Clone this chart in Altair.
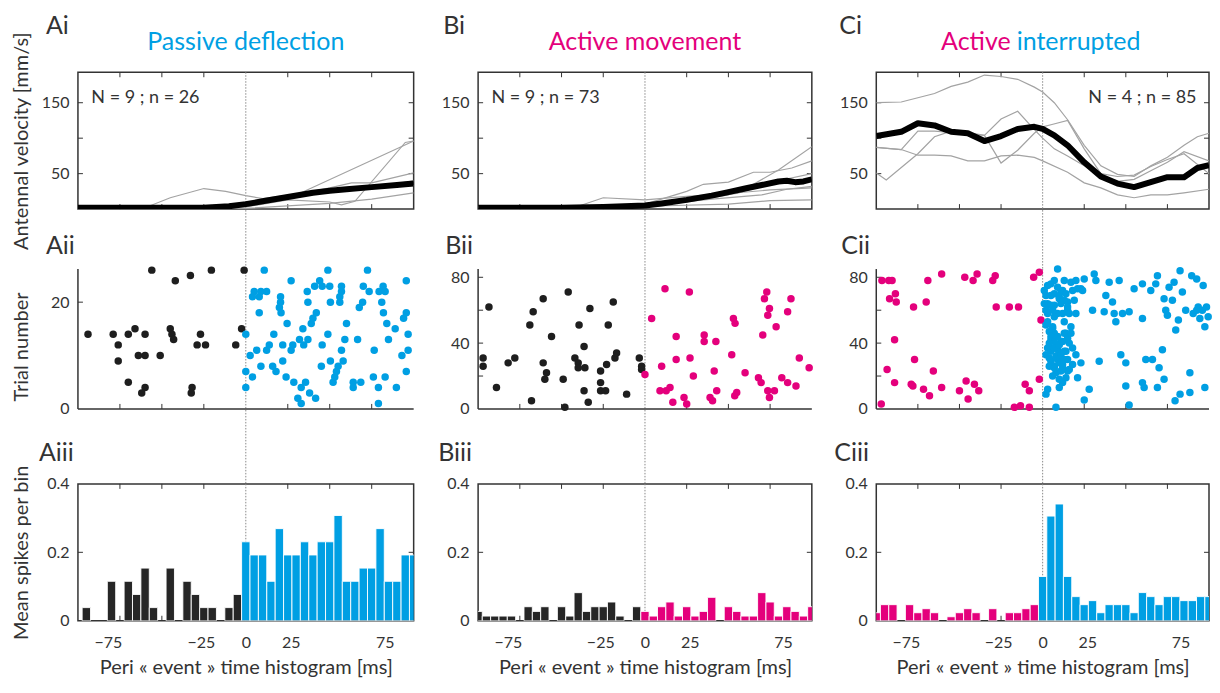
import altair as alt
import pandas as pd

FONT = "Lato"
BLUE = "#009fe3"
MAG = "#e4007c"
DARK = "#1e1e1e"
BARDARK = "#262626"
GRAY = "#a3a3a3"
INK = "#333333"

WA, WB, WC = 336, 334, 333
H1, H2, H3 = 137, 140, 137
EXTRA2 = 15          # extra room under the raster panels (keeps one row spacing)
ROWGAP = 60
COLGAP = 64.5
TICK = 5

# ---------------- data: velocity (row i) ----------------
A_GRAY_T = [[-100, -60, -45, -25, -12, 0, 10, 32, 100],
            [-100, -50, 0, 25, 50, 57, 65, 95, 100],
            [-100, 0, 25, 50, 63, 75, 100],
            [-100, 0, 50, 75, 100],
            [-100, 0, 25, 50, 75, 100],
            [-100, -20, 0, 30, 60, 100]]
A_GRAY_V = [[2, 2, 16, 29, 25, 19, 15, 22, 96],
            [1, 1, 3, 13, 10, 6, 11, 94, 96],
            [1, 5, 18, 30, 37, 37, 51],
            [0, 1, 8, 14, 23],
            [2, 6, 16, 24, 30, 40],
            [1, 2, 10, 20, 28, 33]]
A_MEAN_T = [-100, -75, -50, -25, -10, 0, 10, 25, 40, 50, 60, 75, 90, 100]
A_MEAN_V = [2, 2, 2, 2, 4, 7, 11, 17, 23, 26, 28, 31, 34, 36]

B_GRAY_T = [[-100, -50, 0, 25, 50, 65, 80, 100],
            [-100, -25, 0, 25, 35, 50, 65, 75, 88, 100],
            [-100, -40, -25, 0, 25, 50, 75, 100],
            [-100, 0, 50, 75, 100],
            [-100, 0, 30, 55, 80, 100],
            [-100, 0, 40, 70, 85, 100]]
B_GRAY_V = [[3, 4, 6, 10, 20, 35, 55, 88],
            [2, 5, 7, 25, 35, 38, 52, 52, 58, 68],
            [4, 4, 16, 13, 18, 22, 27, 30],
            [2, 4, 7, 12, 13],
            [2, 6, 15, 22, 40, 50],
            [3, 5, 14, 20, 28, 32]]
B_MEAN_T = [-100, -75, -50, -25, 0, 10, 25, 40, 50, 60, 70, 80, 85, 90, 95, 100]
B_MEAN_V = [2, 2, 2, 3, 5, 8, 13, 19, 24, 29, 34, 39, 40, 38, 39, 42]

C_GRAY_T = [[-100, -85, -75, -65, -55, -45, -35, -25, -15, -5, 0, 7, 15, 25, 35, 45, 55, 65, 75, 85, 93, 100],
            [-100, -94, -75, -65, -55, -45, -35, -25, -15, -5, 0, 5, 15, 25, 35, 45, 55, 65, 75, 85, 100],
            [-100, -85, -75, -65, -55, -45, -35, -25, -15, -5, 0, 7, 15, 25, 35, 45, 55, 65, 75, 85, 100],
            [-100, -85, -75, -65, -55, -45, -35, -25, -15, -5, 0, 15, 25, 35, 45, 55, 65, 75, 85, 100]]
C_GRAY_V = [[150, 151, 157, 163, 173, 179, 189, 187, 183, 172, 165, 150, 126, 90, 61, 49, 46, 61, 73, 90, 102, 107],
            [51, 41, 78, 102, 110, 108, 104, 65, 83, 107, 116, 119, 125, 85, 50, 46, 48, 60, 70, 78, 50],
            [87, 84, 110, 110, 108, 106, 104, 127, 138, 112, 100, 85, 75, 61, 46, 39, 42, 54, 66, 81, 68],
            [87, 84, 76, 76, 75, 68, 68, 75, 76, 73, 68, 52, 37, 30, 20, 16, 20, 20, 23, 28]]
C_MEAN_T = [-100, -85, -75, -65, -55, -45, -35, -25, -15, -5, 0, 7, 15, 25, 35, 45, 55, 65, 75, 85, 93, 100]
C_MEAN_V = [103, 109, 121, 118, 109, 107, 96, 103, 113, 116, 113, 104, 90, 66, 46, 36, 31, 38, 45, 45, 58, 62]

# ---------------- data: rasters (row ii) ----------------
A_PRE_T = [-94, -79, -76, -76, -70, -70, -66, -64, -60, -60, -60, -62, -56, -51, -45, -44, -43, -42,
           -33, -32, -32.5, -27, -29, -24, -20.5, -6, -2.5, -1]
A_PRE_Y = [14, 14, 12, 9, 14, 5, 15, 10, 14, 10, 4, 3, 26, 10, 15, 14, 13, 24,
           25, 4, 3, 14, 12, 12, 26, 12, 15, 26]
A_POST_T = [11, 0, 0, 0, 2.6, 4, 4, 5, 8, 9, 12.4, 8, 6.5, 12.4, 14, 9, 16.7, 16, 18, 20.7, 20, 21, 20.7,
            22, 22, 24, 24.6, 27, 27, 28, 28.6, 31, 33, 33, 34, 32, 34.5, 35.6, 37, 38, 41.6, 36.6, 37,
            39, 40, 42, 41, 44, 45.5, 45.5, 45, 48.9, 48.9, 50, 50.4, 50.4, 52, 53, 54, 55, 56, 56, 57,
            57, 57, 58, 59, 60, 64, 64, 68.5, 66.6, 67.6, 69.6, 70, 72.5, 73.5, 76.5, 76, 79, 79, 79.4,
            81, 81.8, 82, 83, 83, 84, 85, 89, 89.7, 93, 94, 95.6, 95.6, 95.6, 96.7, 96.7]
A_POST_Y = [26, 14, 7, 4, 10, 6, 21, 22, 21, 22, 22, 18, 11, 11, 12, 8, 14, 8, 7, 21, 19, 18, 20,
            12, 9, 6, 16, 24, 11, 12, 5, 2, 1, 4, 15, 13, 12, 5, 13, 3, 2, 22, 20,
            16, 17, 18, 23, 24, 23, 12, 8, 26, 14, 23, 20, 9, 5, 6, 7, 8, 20, 21, 23,
            22, 11, 9, 13, 16, 5, 4, 5, 13, 19, 20, 23, 26, 22, 11, 6, 4, 1, 22,
            20, 23, 18, 22, 6, 16, 13, 15, 4, 10, 17, 18, 24, 7, 14, 11]

B_PRE_T = [-97, -97, -93.5, -89, -82, -78, -69, -68, -67, -61, -61, -59, -60, -56, -49, -48, -46, -42,
           -40, -39.5, -40, -36.5, -36, -36.5, -34, -33, -26.6, -26.6, -26.6, -23.6, -23, -22, -19,
           -18, -17, -11, -3.4, -2, -2]
B_PRE_Y = [31, 26, 62, 13, 28, 31, 51, 5, 59, 67, 28, 22, 18, 44, 18, 1, 71, 31,
           28, 51, 25, 38, 25, 11, 4, 61, 23, 16, 11, 11, 27, 51, 65,
           31, 34, 9, 31, 26, 24]
B_POST_T = [0, 4, 9, 10, 12, 12.7, 15, 16.7, 18.7, 18.7, 23.4, 25, 26.6, 27, 29, 35.5, 35.5, 39, 40.5,
            41.5, 42.5, 43, 52, 53, 54, 53.8, 55, 60, 68, 69.6, 70.6, 71.6, 73, 74.6, 73.6, 73.6,
            74.6, 77.6, 78.6, 82, 85.5, 87.5, 85.5, 90.5, 92.5, 98.4]
B_POST_Y = [21, 55, 11, 26, 73, 11, 13, 4, 44, 30, 7, 3, 71, 31, 20, 45, 41, 7, 5,
            23, 41, 11, 33, 55, 52, 8, 10, 22, 19, 16, 45, 67, 71, 61, 57, 11,
            7, 11, 50, 19, 59, 67, 16, 14, 31, 25]

C_PRE_T = [-97, -96.6, -92.5, -90.5, -92, -88.5, -88, -89, -93.5, -89, -77.6, -77, -79, -78, -71.6, -68,
           -70, -69, -65.7, -60.7, -60.7, -50, -46.8, -46, -44.8, -41.8, -41, -39.4, -38.4, -30, -28.5,
           -27.9, -20, -14.5, -17, -13.3, -10.5, -8, -8, -5.4, -2, -1, -2]
C_PRE_Y = [3, 78, 78, 78, 67, 70, 65, 42, 24, 16, 62, 30, 15, 14, 12, 8,
           65, 78, 23, 82, 13, 11, 80, 17, 6, 78, 15, 82, 11, 78, 81,
           62, 62, 62, 1, 2, 15, 11, 1, 80, 83, 54, 18]
C_POST_T = [9, 3, 7, 13, 17, 25, 31, 32, 40, 46, 55, 60, 65, 2, 7, 12, 18, 23, 10, 3, 7, 11, 15, 38,
            42, 3, 8, 15, 20, 30, 37, 43, 44, 48, 52, 60, 6, 7, 14, 17, 5, 11, 15, 4, 9, 14, 18, 4, 9,
            13, 7, 12, 15, 8, 14, 21, 23, 34, 47, 50, 62, 66, 10, 3, 28, 25, 8, 52, 50, 60, 61,
            1, 5, 5, 10, 11, 13, 15, 9, 12, 16, 2, 5, 3, 7, 2, 4, 6, 5, 7, 3, 5, 7, 10, 12, 13, 17,
            5, 8, 11, 13, 4, 7, 10, 12, 15, 11, 16, 12, 2, 21, 24, 20, 1, 9, 14, 19, 6, 13, 4, 9, 16,
            2, 6, 10, 18, 20,
            68, 69, 69, 70, 72, 73, 73, 74, 75, 76, 78, 79, 80, 79.6, 81.6, 82.6, 82.6, 84, 86, 88.5,
            88.5, 89.6, 90.5, 92.6, 93.5, 94.5, 96, 96.5, 97.5, 98.5, 99.5, 97.5, 92.6]
C_POST_Y = [85, 75, 78, 78, 77, 79, 82, 78, 77, 78, 73, 76, 72, 69, 70, 72, 72, 73, 67, 64, 63, 64, 65, 69,
            65, 58, 58, 60, 58, 60, 59, 58, 53, 58, 59, 55, 50, 46, 46, 50, 42, 41, 43, 37, 36, 35, 37, 31, 30,
            30, 26, 25, 23, 22, 19, 19, 28, 29, 33, 28, 30, 30, 13, 12, 12, 5.5, 1, 2.4, 14, 16, 13,
            64, 69, 76, 68, 71, 66, 62, 58, 58, 58, 60, 63, 53, 56, 51, 47, 49, 44, 41, 37, 35, 37, 39, 41, 46, 46,
            29, 32, 33, 35, 26, 25, 28, 27, 30, 23, 24, 16, 9, 73, 72, 78, 72, 74, 70, 66, 60, 53, 40, 44, 40,
            33, 20, 18, 27, 33,
            76, 81, 13, 25, 36, 18, 67, 60, 57, 74, 66, 77, 48, 5, 54, 84, 9, 71, 60, 22,
            10, 81, 58, 79, 62, 55, 60, 75, 50, 62, 56, 13, 60]

# ---------------- data: PSTH (row iii), 5 ms bins ----------------
BINS = [-100, -95, -90, -85, -80, -75, -70, -65, -60, -55, -50, -45, -40, -35, -30, -25, -20, -15, -10, -5,
        0, 5, 10, 15, 20, 25, 30, 35, 40, 45, 50, 55, 60, 65, 70, 75, 80, 85, 90, 95, 100]
A_N, B_N, C_N = 26, 73, 85
A_COUNTS = [0, 1, 0, 0, 3, 0, 3, 2, 4, 1, 0, 4, 0, 3, 2, 1, 1, 0, 1, 2,
            6, 5, 5, 3, 7, 5, 5, 6, 5, 6, 6, 8, 3, 3, 4, 4, 7, 3, 3, 5, 5]
B_COUNTS = [2, 1, 1, 1, 1, 0, 3, 2, 3, 0, 3, 1, 6, 2, 3, 3, 4, 1, 0, 3,
            2, 1, 3, 4, 1, 3, 1, 2, 5, 0, 3, 2, 1, 1, 6, 4, 1, 3, 2, 1, 3]
C_COUNTS = [2, 4, 4, 0, 4, 2, 3, 2, 0, 1, 2, 3, 2, 0, 3, 0, 2, 2, 3, 4,
            11, 26, 29, 11, 6, 4, 5, 2, 4, 4, 4, 2, 7, 6, 4, 6, 6, 5, 5, 6, 6]

TICK_T = [-75, -50, -25, 25, 50, 75]
X_LABELS = [-75, -25, 0, 25, 75]


# ---------------- helpers ----------------
def xscale():
    return alt.Scale(domain=[-100, 100], nice=False, zero=False)


def text_layer(text, dx, dy, size=25, color=INK, align="left"):
    return alt.Chart(pd.DataFrame({"s": [text]})).mark_text(
        align=align, baseline="alphabetic", font=FONT, fontSize=size, color=color
    ).encode(text="s:N", x=alt.value(dx), y=alt.value(dy))


def zero_rule(xaxis, extend):
    return alt.Chart(pd.DataFrame({"t": [0]})).mark_rule(
        color="#8a8a8a", strokeWidth=1, strokeDash=[1.5, 1.5]
    ).encode(x=alt.X("t:Q", scale=xscale(), axis=xaxis), y=alt.value(0), y2=alt.value(extend))


def xtick_layers(xaxis, H, top=True, bottom=True):
    base = alt.Chart(pd.DataFrame({"t": TICK_T})).mark_rule(color=INK, strokeWidth=1)
    out = []
    X = alt.X("t:Q", scale=xscale(), axis=xaxis)
    if top:
        out.append(base.encode(x=X, y=alt.value(0), y2=alt.value(TICK)))
    if bottom:
        out.append(base.encode(x=X, y=alt.value(H), y2=alt.value(H - TICK)))
    return out


def ytick_layers(vals, yscale_fn, yaxis, W, left=True, right=True):
    base = alt.Chart(pd.DataFrame({"v": vals})).mark_rule(color=INK, strokeWidth=1)
    out = []
    Y = alt.Y("v:Q", scale=yscale_fn(), axis=yaxis)
    if left:
        out.append(base.encode(y=Y, x=alt.value(0), x2=alt.value(TICK)))
    if right:
        out.append(base.encode(y=Y, x=alt.value(W), x2=alt.value(W - TICK)))
    return out


def lines_df(ts, vs):
    rows = []
    for i, (tt, vv) in enumerate(zip(ts, vs)):
        for t, v in zip(tt, vv):
            rows.append({"id": i, "t": t, "v": v})
    return pd.DataFrame(rows)


def yaxis_for(values, ytitle, **extra):
    return alt.Axis(values=values, ticks=False, domain=False, grid=False, labelPadding=9,
                    minExtent=40, maxExtent=40, title=ytitle, titlePadding=6, **extra)


def vel_panel(W, gt, gv, mt, mv, ntext, nx, nalign, label, label_dx, titles, ytitle):
    ysc = lambda: alt.Scale(domain=[0, 193], nice=False, zero=True)
    yaxis = yaxis_for([50, 150], ytitle)
    xaxis = None
    X = lambda f: alt.X(f, scale=xscale(), axis=xaxis)
    Y = lambda f: alt.Y(f, scale=ysc(), axis=yaxis)
    layers = [zero_rule(xaxis, H1 + ROWGAP)]
    layers += xtick_layers(xaxis, H1)
    layers += ytick_layers([50, 100, 150], ysc, yaxis, W)
    layers.append(alt.Chart(lines_df(gt, gv)).mark_line(color=GRAY, strokeWidth=1.2, clip=True)
                  .encode(x=X("t:Q"), y=Y("v:Q"), detail="id:N"))
    layers.append(alt.Chart(pd.DataFrame({"t": mt, "v": mv})).mark_line(
        color="black", strokeWidth=6, strokeJoin="round", clip=True)
        .encode(x=X("t:Q"), y=Y("v:Q")))
    layers.append(alt.Chart(pd.DataFrame({"t": [nx], "v": [150], "s": [ntext]})).mark_text(
        align=nalign, baseline="alphabetic", font=FONT, fontSize=18, color=INK)
        .encode(x=X("t:Q"), y=Y("v:Q"), text="s:N"))
    layers.append(text_layer(label, label_dx, -38))
    for (txt, px, al, col) in titles:
        layers.append(text_layer(txt, px, -22, size=25, color=col, align=al))
    return alt.layer(*layers).properties(
        width=W, height=H1, view=alt.ViewBackground(stroke=INK, strokeWidth=1.5))


def raster_panel(W, ymax, ylabels, yticks, pre_t, pre_y, pre_col, post_t, post_y, post_col,
                 label, label_dx, ytitle):
    ymin = -ymax * EXTRA2 / H2
    unit = ymax / H2  # data units per pixel
    ysc = lambda: alt.Scale(domain=[ymin, ymax], nice=False, zero=False)
    yaxis = yaxis_for(ylabels, ytitle)
    xaxis = None
    X = lambda f: alt.X(f, scale=xscale(), axis=xaxis)
    Y = lambda f: alt.Y(f, scale=ysc(), axis=yaxis)
    layers = [zero_rule(xaxis, H2 + EXTRA2 + ROWGAP)]
    # axis lines (left and bottom) drawn through the y scale
    layers.append(alt.Chart(pd.DataFrame({"v": [0], "v2": [ymax]})).mark_rule(
        color=INK, strokeWidth=1.5).encode(x=alt.value(0), y=Y("v:Q"), y2="v2:Q"))
    layers.append(alt.Chart(pd.DataFrame({"v": [0]})).mark_rule(
        color=INK, strokeWidth=1.5).encode(x=alt.value(0), x2=alt.value(W), y=Y("v:Q")))
    # inward ticks
    layers.append(alt.Chart(pd.DataFrame({"t": TICK_T, "v": [0] * len(TICK_T),
                                          "v2": [TICK * unit] * len(TICK_T)}))
                  .mark_rule(color=INK, strokeWidth=1)
                  .encode(x=X("t:Q"), y=Y("v:Q"), y2="v2:Q"))
    layers += ytick_layers(yticks, ysc, yaxis, W, right=False)
    layers.append(alt.Chart(pd.DataFrame({"t": pre_t, "v": pre_y})).mark_circle(
        size=56, opacity=1, color=pre_col).encode(x=X("t:Q"), y=Y("v:Q")))
    layers.append(alt.Chart(pd.DataFrame({"t": post_t, "v": post_y})).mark_circle(
        size=56, opacity=1, color=post_col).encode(x=X("t:Q"), y=Y("v:Q")))
    layers.append(text_layer(label, label_dx, -15))
    return alt.layer(*layers).properties(width=W, height=H2 + EXTRA2)


LABEL_OFFSET = {"condition": [{"test": "datum.value == -75", "value": -12},
                              {"test": "datum.value == -25", "value": -3},
                              {"test": "datum.value == 25", "value": 3},
                              {"test": "datum.value == 75", "value": 13}],
                "value": 0}


def hist_panel(W, counts, n, pre_col, post_col, label, label_dx, ytitle):
    ysc = lambda: alt.Scale(domain=[0, 0.4], nice=False, zero=True)
    yaxis = yaxis_for([0, 0.2, 0.4], ytitle,
                      labelExpr="datum.value == 0 ? '0' : format(datum.value, '.1f')")
    xaxis = alt.Axis(values=X_LABELS, ticks=False, domain=False, grid=False, labelPadding=14,
                     labelOffset=LABEL_OFFSET,
                     title="Peri « event » time histogram [ms]", titlePadding=7)
    X = lambda f: alt.X(f, scale=xscale(), axis=xaxis)
    Y = lambda f: alt.Y(f, scale=ysc(), axis=yaxis)
    df = pd.DataFrame({"c": BINS, "k": counts})
    df["x0"] = df["c"] - 2.5
    df["x1"] = df["c"] + 2.5
    df["v"] = df["k"] / n
    df["col"] = [pre_col if c < 0 else post_col for c in BINS]
    df = df[df["k"] > 0]
    layers = [zero_rule(xaxis, H3)]
    layers += xtick_layers(xaxis, H3)
    layers += ytick_layers([0.2], ysc, yaxis, W)
    layers.append(alt.Chart(df).mark_bar(stroke="white", strokeWidth=0.9, clip=True).encode(
        x=X("x0:Q"), x2="x1:Q", y=Y("v:Q"), y2=alt.datum(0),
        color=alt.Color("col:N", scale=None)))
    layers.append(text_layer(label, label_dx, -23))
    return alt.layer(*layers).properties(
        width=W, height=H3, view=alt.ViewBackground(stroke=INK, strokeWidth=1.5))


# ---------------- panels ----------------
a1 = vel_panel(WA, A_GRAY_T, A_GRAY_V, A_MEAN_T, A_MEAN_V, "N = 9 ; n = 26", -92, "left", "Ai", -32,
               [("Passive deflection", WA / 2, "center", BLUE)], "Antennal velocity [mm/s]")
b1 = vel_panel(WB, B_GRAY_T, B_GRAY_V, B_MEAN_T, B_MEAN_V, "N = 9 ; n = 73", -92, "left", "Bi", -35,
               [("Active movement", WB / 2, "center", MAG)], "")
c1 = vel_panel(WC, C_GRAY_T, C_GRAY_V, C_MEAN_T, C_MEAN_V, "N = 4 ; n = 85", 92.5, "right", "Ci", -37,
               [("Active", WC / 2 - 32, "right", MAG), ("interrupted", WC / 2 - 26, "left", BLUE)], "")

a2 = raster_panel(WA, 26.2, [0, 20], [20], A_PRE_T, A_PRE_Y, DARK, A_POST_T, A_POST_Y, BLUE,
                  "Aii", -32, "Trial number")
b2 = raster_panel(WB, 85, [0, 40, 80], [20, 40, 60, 80], B_PRE_T, B_PRE_Y, DARK, B_POST_T, B_POST_Y, MAG,
                  "Bii", -33, "")
c2 = raster_panel(WC, 85, [0, 40, 80], [20, 40, 60, 80], C_PRE_T, C_PRE_Y, MAG, C_POST_T, C_POST_Y, BLUE,
                  "Cii", -35, "")

a3 = hist_panel(WA, A_COUNTS, A_N, BARDARK, BLUE, "Aiii", -39, "Mean spikes per bin")
b3 = hist_panel(WB, B_COUNTS, B_N, BARDARK, MAG, "Biii", -40, "")
c3 = hist_panel(WC, C_COUNTS, C_N, MAG, BLUE, "Ciii", -42, "")

chart = alt.concat(a1, b1, c1, a2, b2, c2, a3, b3, c3, columns=3,
                   spacing={"row": ROWGAP, "column": COLGAP}, bounds="flush").properties(
    padding={"left": 3, "top": 5, "right": 0, "bottom": 0}
).configure_view(strokeWidth=0).configure_axis(
    labelFont=FONT, titleFont=FONT, labelFontSize=16, titleFontSize=20, labelColor=INK,
    titleColor=INK, titleFontWeight="normal", grid=False
)

chart.save("out.html", embed_options={"renderer": "svg", "actions": False})
